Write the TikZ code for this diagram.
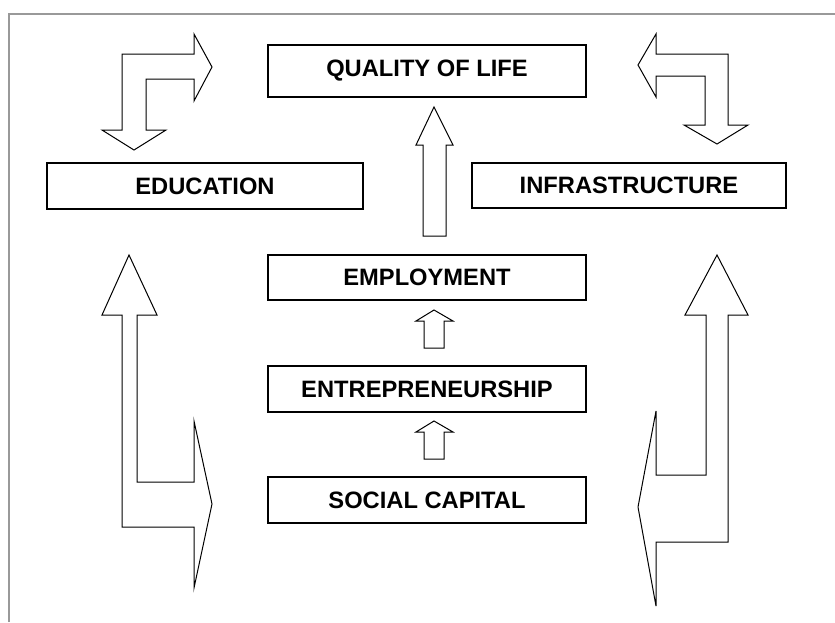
\documentclass[tikz,border=0pt]{standalone}
\usepackage{fontspec}
\setmainfont{Liberation Sans}
\usepackage{tikz}

\tikzset{
  factor/.style={draw, line width=1.4pt, fill=white, inner sep=0pt,
    minimum width=318pt, minimum height=46pt,
    font=\fontsize{23.7}{28}\selectfont\bfseries},
  blockarrow/.style={draw, line width=1pt, fill=white, line join=miter}
}

\begin{document}
\begin{tikzpicture}[x=1pt, y=-1pt]
\useasboundingbox (0, 0) rectangle (835, 622);
\draw[gray!80, line width=1.5pt] (9, 622) -- (9, 14) -- (835, 14);
% boxes
\node[factor, minimum height=52pt] (quality) at (427, 71) {QUALITY OF LIFE};
\node[factor, minimum width=316pt] (education) at (205, 186) {EDUCATION};
\node[factor, minimum width=314pt, minimum height=45pt] (infrastructure) at (629, 185.5) {INFRASTRUCTURE};
\node[factor, minimum height=45pt] (employment) at (427, 277.5) {EMPLOYMENT};
\node[factor] (entrepreneurship) at (427, 389) {ENTREPRENEURSHIP};
\node[factor] (capital) at (427, 500) {SOCIAL CAPITAL};
% bent arrows at the top
\draw[blockarrow] (102, 130) -- (134, 150) -- (166, 130) -- (146, 130) -- (146, 79) -- (194, 79)
  -- (194, 101) -- (212, 67) -- (194, 34) -- (194, 54) -- (122, 54) -- (122, 130) -- cycle;
\draw[blockarrow] (638, 65) -- (656, 34) -- (656, 54) -- (728, 54) -- (728, 125) -- (748, 125)
  -- (717, 144) -- (684, 125) -- (705, 125) -- (705, 76) -- (656, 76) -- (656, 97) -- cycle;
% arrows up the middle
\draw[blockarrow] (434, 107) -- (453, 145) -- (446, 145) -- (446, 236) -- (423, 236) -- (423, 145) -- (416, 145) -- cycle;
\draw[blockarrow] (434, 310) -- (453, 321) -- (444, 321) -- (444, 348) -- (424, 348) -- (424, 321) -- (416, 321) -- cycle;
\draw[blockarrow] (434, 421) -- (453, 432) -- (444, 432) -- (444, 459) -- (424, 459) -- (424, 432) -- (416, 432) -- cycle;
% long arrows at the sides
\draw[blockarrow] (129, 255) -- (157, 315) -- (137, 315) -- (137, 482) -- (194, 482) -- (194, 421)
  -- (212, 504) -- (194, 588) -- (194, 527) -- (122, 527) -- (122, 315) -- (102, 315) -- cycle;
\draw[blockarrow] (717, 255) -- (748, 315) -- (728, 315) -- (728, 542) -- (656, 542) -- (656, 606)
  -- (638, 507) -- (656, 411) -- (656, 475) -- (706, 475) -- (706, 315) -- (685, 315) -- cycle;
\end{tikzpicture}
\end{document}
